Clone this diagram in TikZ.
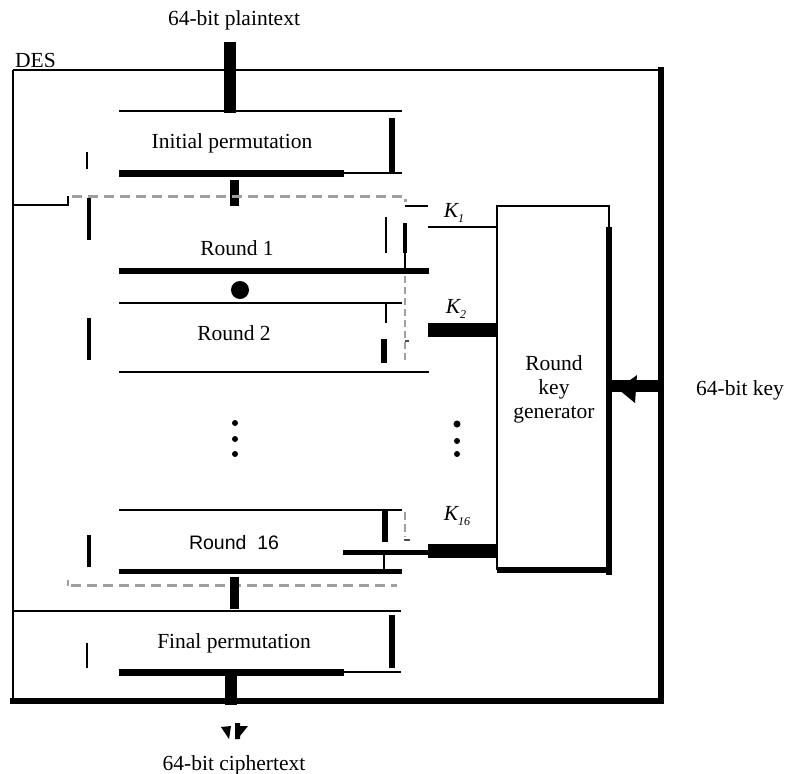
\documentclass[tikz,border=0pt]{standalone}
\usepackage{fontspec}
\setmainfont{Liberation Serif}
\newfontfamily\arialfont{Liberation Sans}
\begin{document}
\begin{tikzpicture}[x=1pt,y=-1pt,
 thinln/.style={line width=1.8pt},
 dashgray/.style={draw=gray!75, line width=3pt, dash pattern=on 10pt off 6pt},
 lbl/.style={font=\fontsize{21.5}{24}\selectfont, inner sep=0pt},
 klbl/.style={font=\fontsize{21.5}{24}\selectfont\itshape, inner sep=0pt},
 dotf/.style={fill=black},
]
\useasboundingbox (0,0) rectangle (785,774);
% labels
\node[lbl] (pt) at (234,20) {64-bit plaintext};
\node[lbl, anchor=west] (des) at (15,60) {DES};
\node[lbl] (ip) at (232,143) {Initial permutation};
\node[lbl] (r1) at (237,248) {Round 1};
\node[lbl] (r2) at (234,333) {Round 2};
\node[lbl, font=\arialfont\fontsize{19.5}{22}\selectfont] (r16) at (234,543) {Round\ \ 16};
\node[lbl] (fp) at (234,643) {Final permutation};
\node[lbl] (ct) at (234,765) {64-bit ciphertext};
\node[lbl] (key) at (740,390) {64-bit key};
\node[lbl, align=center, font=\fontsize{21.5}{24}\selectfont] (rkg) at (554,389) {Round\\key\\generator};
\node[klbl] (k1) at (454,213) {K\raisebox{-5pt}{\fontsize{12}{13}\selectfont 1}};
\node[klbl] (k2) at (456,309) {K\raisebox{-5pt}{\fontsize{12}{13}\selectfont 2}};
\node[klbl] (k16) at (457,516) {K\raisebox{-5pt}{\fontsize{12}{13}\selectfont 16}};
% outer DES box
\draw[thinln] (13,70) -- (662,70);
\draw[thinln] (13,70) -- (13,701);
\draw[line width=6pt] (10,701) -- (664,701);
\draw[line width=6pt] (661,67) -- (661,704);
% plaintext input
\draw[line width=12pt] (230,42) -- (230,113);
% initial permutation
\draw[thinln] (119,111) -- (402,111);
\draw[line width=7pt] (119,173) -- (344,173);
\draw[thinln] (344,173) -- (402,173);
\draw[line width=6pt] (392,118) -- (392,173);
\draw[line width=2.5pt] (87,152) -- (87,169);
\draw[line width=9pt] (234,180) -- (234,206);
% upper dashed frame
\draw[thinln] (13,205) -- (68,205) -- (68,196);
\draw[dashgray] (72,196) -- (405,196) -- (405,202);
\draw[thinln] (405,206) -- (428,206);
% round 1
\draw[line width=4pt] (89,198) -- (89,240);
\draw[thinln] (386,217) -- (386,253);
\draw[line width=4pt] (405,223) -- (405,253);
\draw[line width=1.2pt] (405,253) -- (405,271);
\draw[line width=6pt] (119,271) -- (429,271);
\fill[dotf] (240,290) circle (9);
\draw[thinln] (428,227) -- (497,227);
% round 2
\draw[thinln] (119,303) -- (402,303);
\draw[thinln] (386,303) -- (386,323);
\draw[line width=6pt] (384,339) -- (384,363);
\draw[line width=4pt] (89,318) -- (89,360);
\draw[dashgray, line width=2.5pt, dash pattern=on 7pt off 4pt] (405,276) -- (405,363);
\draw[line width=1.5pt, black!70] (405,341) -- (409,341);
\draw[thinln] (119,372) -- (429,372);
\draw[line width=14pt] (428,330) -- (497,330);
% dots
\foreach \y in {423,439,454} \fill[dotf] (235,\y) circle (3);
\fill[dotf] (457,424) circle (3.5);
\fill[dotf] (457,441) circle (3);
\fill[dotf] (457,454) circle (3);
% round 16
\draw[thinln] (119,510) -- (402,510);
\draw[line width=6pt] (385,510) -- (385,542);
\draw[dashgray, line width=2.5pt, dash pattern=on 8pt off 4pt] (405,512) -- (405,537);
\draw[line width=2pt, black!70] (404,540) -- (410,540);
\draw[line width=4pt] (89,535) -- (89,567);
\draw[line width=5pt] (343,552) -- (428,552);
\draw[line width=14pt] (428,551) -- (497,551);
\draw[thinln] (384,552) -- (384,570);
\draw[line width=5pt] (119,571) -- (402,571);
% lower dashed frame
\draw[dashgray] (71,585) -- (397,585);
\draw[line width=2pt, gray!75] (68,580) -- (68,586);
\draw[line width=9pt] (234,577) -- (234,609);
% final permutation
\draw[thinln] (13,611) -- (401,611);
\draw[line width=6pt] (392,615) -- (392,668);
\draw[line width=2.5pt] (87,643) -- (87,668);
\draw[line width=7pt] (119,672) -- (344,672);
\draw[thinln] (344,672) -- (401,672);
\draw[line width=12pt] (231,672) -- (231,705);
% broken arrowhead for ciphertext
\fill (221,727) -- (231,726) -- (229,739) -- cycle;
\fill (235,723) -- (240,723) -- (240,726) -- (248,726) -- (240,736) -- (240,739) -- (235,739) -- cycle;
% round key generator box
\draw[thinln] (497,570) -- (497,206) -- (609,206) -- (609,227);
\draw[line width=6pt] (609,227) -- (609,575);
\draw[line width=6pt] (497,570) -- (612,570);
% 64-bit key input
\draw[line width=12pt] (612,386) -- (658,386);
\fill (618,389) -- (637,375) -- (635,403) -- cycle;
\end{tikzpicture}
\end{document}
